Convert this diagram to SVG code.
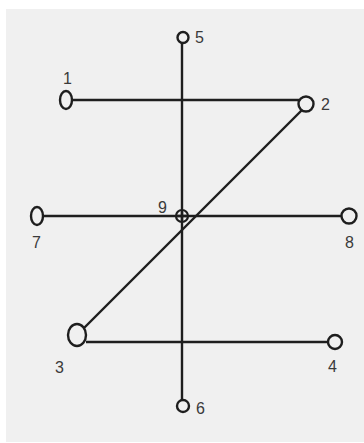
<svg xmlns="http://www.w3.org/2000/svg" width="364" height="443" viewBox="0 0 364 443">
<style>
.ln{stroke:#1e1e1e;stroke-width:2.4;fill:none}
.nd{stroke:#1e1e1e;stroke-width:2.4;fill:#f0f0f0}
.lb{font-family:"Liberation Sans",Arial,sans-serif;font-size:16px;fill:#3a3a3a}
</style>
<rect x="0" y="0" width="364" height="443" fill="#ffffff"/>
<rect x="6" y="9" width="358" height="433" fill="#f0f0f0"/>
<g id="connectors">
<line class="ln" x1="182" y1="43" x2="182" y2="400"/>
<line class="ln" x1="72" y1="100" x2="299" y2="100"/>
<line class="ln" x1="43" y1="216" x2="342" y2="216"/>
<line class="ln" x1="86" y1="342" x2="328" y2="342"/>
<line class="ln" x1="302" y1="110" x2="83" y2="329"/>
</g>
<g id="n1"><ellipse class="nd" cx="66" cy="100" rx="6" ry="9"/><text class="lb" x="63" y="84">1</text></g>
<g id="n2"><circle class="nd" cx="306" cy="104" r="7.5"/><text class="lb" x="321" y="110">2</text></g>
<g id="n3"><ellipse class="nd" cx="77" cy="335" rx="9" ry="11"/><text class="lb" x="55" y="373">3</text></g>
<g id="n4"><circle class="nd" cx="335" cy="342" r="7"/><text class="lb" x="328" y="372">4</text></g>
<g id="n5"><circle class="nd" cx="183" cy="37.5" r="5.5"/><text class="lb" x="195" y="43">5</text></g>
<g id="n6"><circle class="nd" cx="183" cy="406" r="6"/><text class="lb" x="196" y="414">6</text></g>
<g id="n7"><ellipse class="nd" cx="37" cy="216" rx="6" ry="9"/><text class="lb" x="32" y="248">7</text></g>
<g id="n8"><circle class="nd" cx="349" cy="216" r="7.5"/><text class="lb" x="345" y="248">8</text></g>
<g id="n9"><circle cx="182" cy="216" r="6" fill="none" stroke="#1e1e1e" stroke-width="2.2"/><line class="ln" x1="176" y1="216" x2="188" y2="216"/><line class="ln" x1="182" y1="210" x2="182" y2="222"/><text class="lb" x="158" y="213">9</text></g>
</svg>
